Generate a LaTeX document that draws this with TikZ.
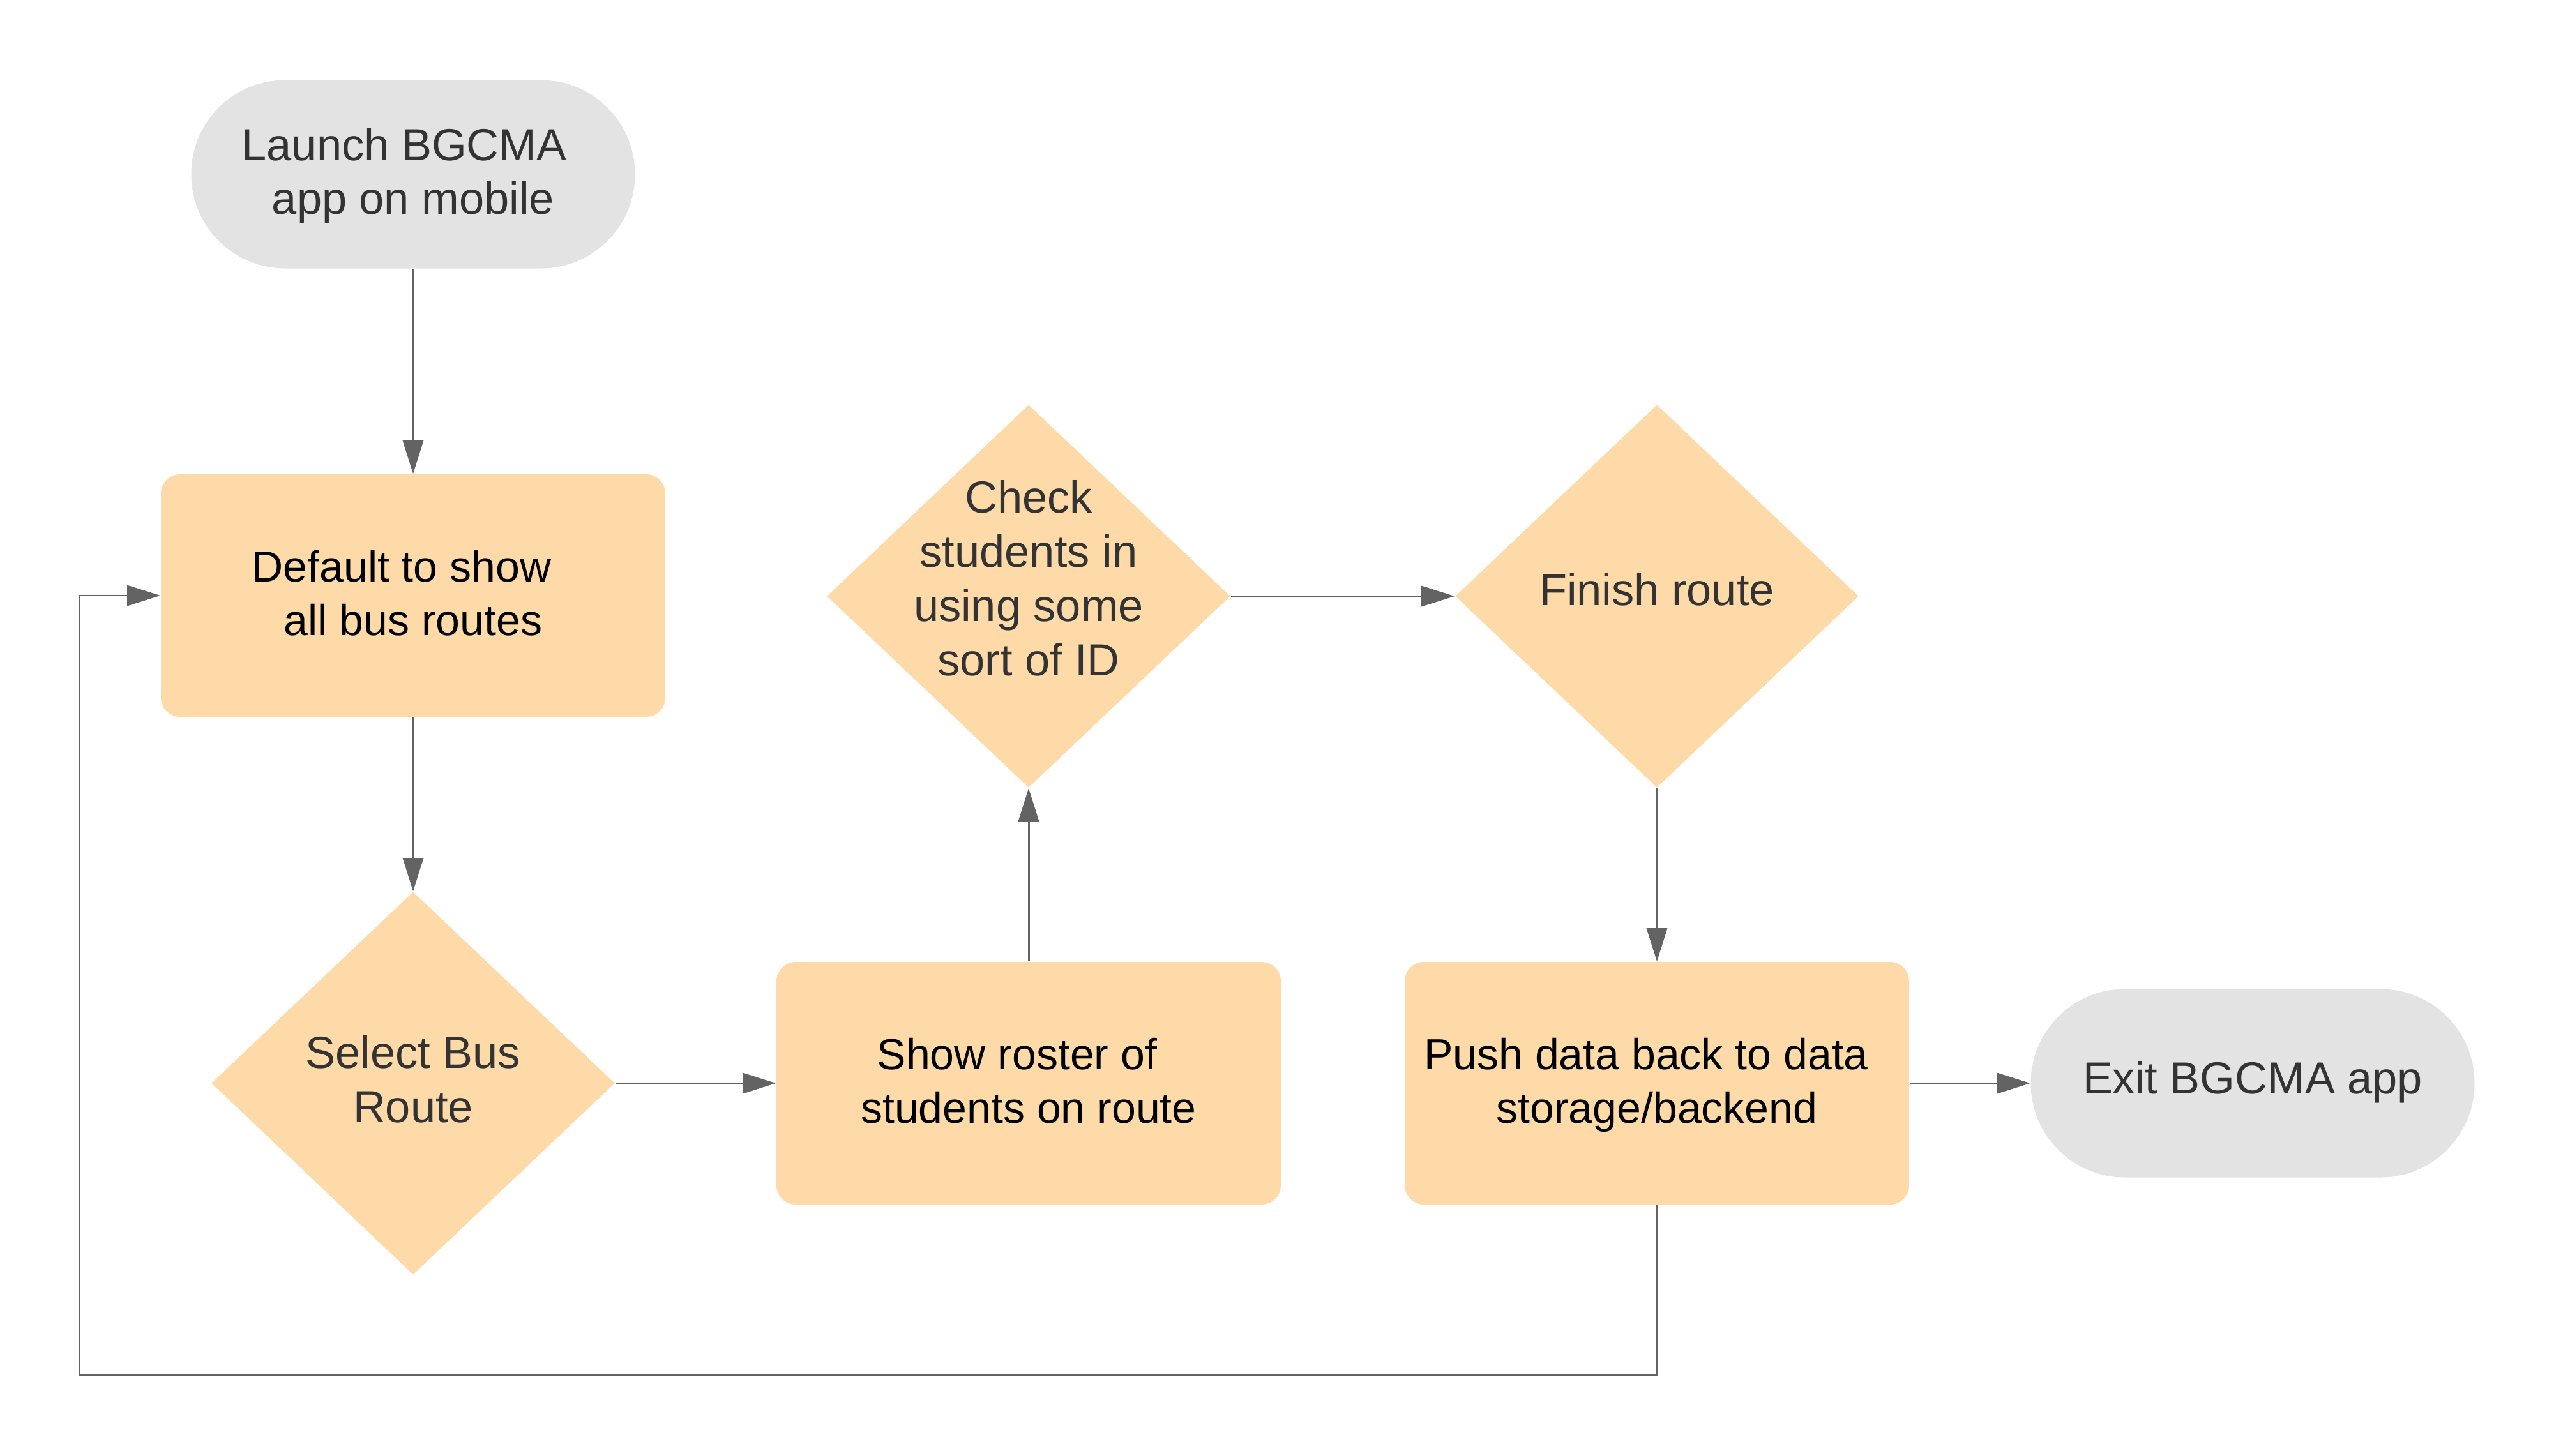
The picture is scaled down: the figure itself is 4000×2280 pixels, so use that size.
\documentclass[tikz,border=0pt]{standalone}
\usepackage{fontspec}
\setmainfont{Liberation Sans}
\usetikzlibrary{shapes.geometric,arrows.meta,calc}
\definecolor{boxfill}{HTML}{FDDAA8}
\definecolor{pillfill}{HTML}{E3E3E3}
\definecolor{linecol}{HTML}{636363}
\definecolor{greytext}{HTML}{333333}
\newcommand{\hightop}{\rule{0pt}{16.6pt}}
\begin{document}
\begin{tikzpicture}[x=0.25pt,y=-0.25pt,
  txt/.style={font=\fontsize{17pt}{21pt}\selectfont, align=center, inner sep=0pt,
    execute at begin node=\strut, execute at end node=\strut},
  gtxt/.style={font=\fontsize{17.6pt}{21.2pt}\selectfont, align=center, inner sep=0pt, text=greytext,
    execute at begin node=\strut, execute at end node=\strut},
  pill/.style={gtxt, fill=pillfill, minimum width=173.75pt, minimum height=73.75pt, rounded corners=36.8pt},
  procbox/.style={txt, fill=boxfill, text=black, minimum width=197.5pt, minimum height=95pt, rounded corners=7.5pt},
  decision/.style={shape=diamond, fill=boxfill, minimum width=158pt, minimum height=150pt, inner sep=0pt},
  dtext/.style={gtxt},
  conn/.style={draw=linecol, line width=0.75pt, -{Triangle[length=13pt,width=8pt]}},
  loopline/.style={draw=linecol, line width=0.7pt, -{Triangle[length=13pt,width=8pt]}}
]
\useasboundingbox (0,0) rectangle (4000,2280);
\node[pill] (launch) at (647,273) {\hightop Launch BGCMA\hspace*{7pt}\\ app on mobile};
\node[procbox] (default) at (647,933) {\hightop Default to show\hspace*{9pt}\\ all bus routes};
\node[decision] (select) at (647,1697) {};
\node[dtext] (selectt) at (647,1703) {Select Bus\\Route};
\node[procbox] (roster) at (1611,1697) {\hightop Show roster of\hspace*{9pt}\\students on route};
\node[decision] (check) at (1611,934) {};
\node[dtext] (checkt) at (1611,918) {Check\\students in\\using some\\sort of ID};
\node[decision] (finish) at (2595,934) {};
\node[dtext] (finisht) at (2595,932) {Finish route};
\node[procbox] (push) at (2595,1697) {\hightop Push data back to data\hspace*{8.5pt}\\storage/backend};
\node[pill] (exit) at (3528,1697) {Exit BGCMA app};
\coordinate (lb) at (2595,2154);
\coordinate (lc) at (125,2154);
\draw[conn] (launch.south) -- (default.north);
\draw[conn] (default.south) -- (select.north);
\draw[conn] (select.east) -- (roster.west);
\draw[conn] (roster.north) -- (check.south);
\draw[conn] (check.east) -- (finish.west);
\draw[conn] (finish.south) -- (push.north);
\draw[conn] (push.east) -- (exit.west);
\draw[loopline] (push.south) -- (lb) -- (lc) |- (default.west);
\end{tikzpicture}
\end{document}
